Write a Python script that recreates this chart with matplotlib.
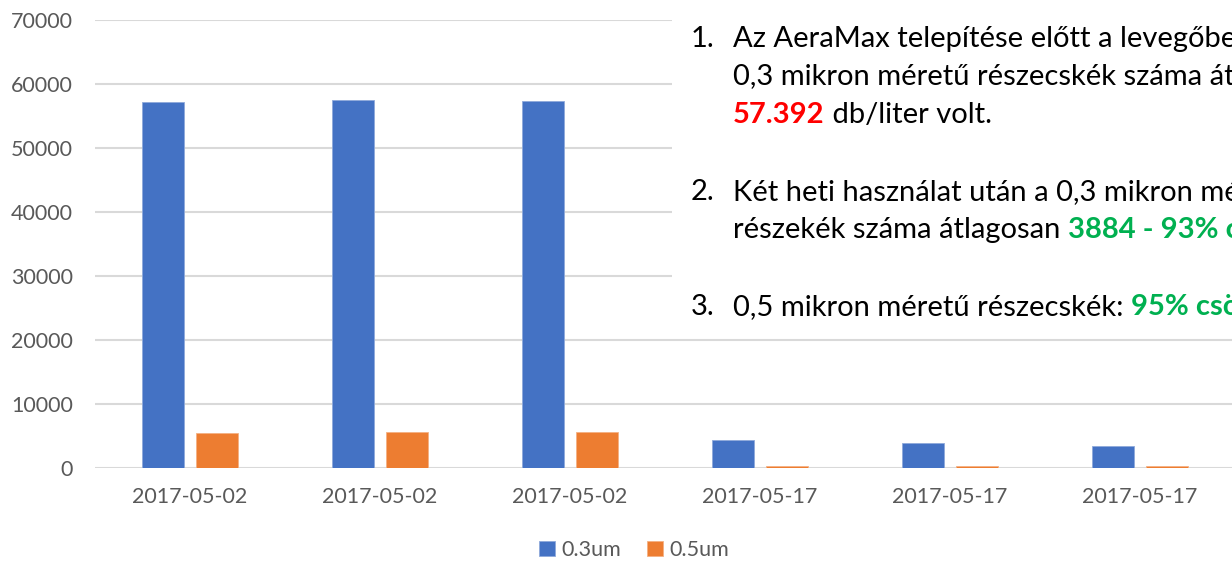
import numpy as np
import matplotlib.pyplot as plt
from matplotlib.patches import Rectangle

plt.rcParams['font.family'] = ['Lato', 'DejaVu Sans']

# data
dates = ["2017-05-02", "2017-05-02", "2017-05-02", "2017-05-17", "2017-05-17", "2017-05-17"]
um03 = [57250, 57550, 57376, 4300, 3850, 3500]
um05 = [5450, 5580, 5560, 280, 240, 270]

blue = "#4472C4"
orange = "#ED7D31"
grey = "#595959"
red = "#FF0000"
green = "#00B050"

W, H = 1232, 561
fig = plt.figure(figsize=(W / 100, H / 100), dpi=100)
ax = fig.add_axes([95 / W, 1 - 468 / H, 1 - 95 / W, (468 - 20) / H])

x = np.arange(len(dates))
w = 42 / 190
gap = 12 / 190
ax.bar(x - (w + gap) / 2, um03, w, color=blue, label="0.3um", zorder=3,
       edgecolor="#8EA9DB", linewidth=0.6)
ax.bar(x + (w + gap) / 2, um05, w, color=orange, label="0.5um", zorder=3,
       edgecolor="#F4B183", linewidth=0.6)

ax.set_xlim(-0.5, (W - 190) / 190)
ax.set_ylim(0, 70000)
ax.set_yticks(range(0, 70001, 10000))
ax.set_xticks(x)
ax.set_xticklabels(dates)
ax.grid(axis="y", color="#D9D9D9", linewidth=1.5, zorder=0)
for s in ax.spines.values():
    s.set_visible(False)
ax.tick_params(length=0, labelsize=15.5, colors=grey)
ax.tick_params(axis="y", pad=16)
ax.tick_params(axis="x", pad=14)

ax.legend(loc="center", bbox_to_anchor=(0.474, -0.183),
          ncol=2, frameon=False, fontsize=15.5, handlelength=0.75, handleheight=0.75,
          columnspacing=1.2, handletextpad=0.3, labelcolor=grey)

# white text box over the upper right of the plot
fig.add_artist(Rectangle((672 / W, 1 - 325 / H), 1, 325 / H,
                         transform=fig.transFigure, facecolor="white",
                         edgecolor="none", zorder=5))

fs = 21
lines = [
    (47, [("Az AeraMax telepítése előtt a levegőben a", "black", False)], "1."),
    (85, [("0,3 mikron méretű részecskék száma átlagosan", "black", False)], None),
    (123, [("57.392", red, True), (" db/liter volt.", "black", False)], None),
    (200, [("Két heti használat után a 0,3 mikron méretű", "black", False)], "2."),
    (238, [("részekék száma átlagosan ", "black", False), ("3884 - 93% csökkenés", green, True)], None),
    (315, [("0,5 mikron méretű részecskék: ", "black", False), ("95% csökkenés", green, True)], "3."),
]

fig.canvas.draw()
r = fig.canvas.get_renderer()
for ypx, parts, num in lines:
    if num:
        fig.text(691 / W, 1 - ypx / H, num, fontsize=fs, va="baseline", zorder=6)
    xpx = 733
    for txt, col, bold in parts:
        t = fig.text(xpx / W, 1 - ypx / H, txt, fontsize=fs, color=col,
                     fontweight="bold" if bold else "normal", va="baseline", zorder=6)
        xpx += t.get_window_extent(r).width

fig.savefig("out.png", dpi=100)
